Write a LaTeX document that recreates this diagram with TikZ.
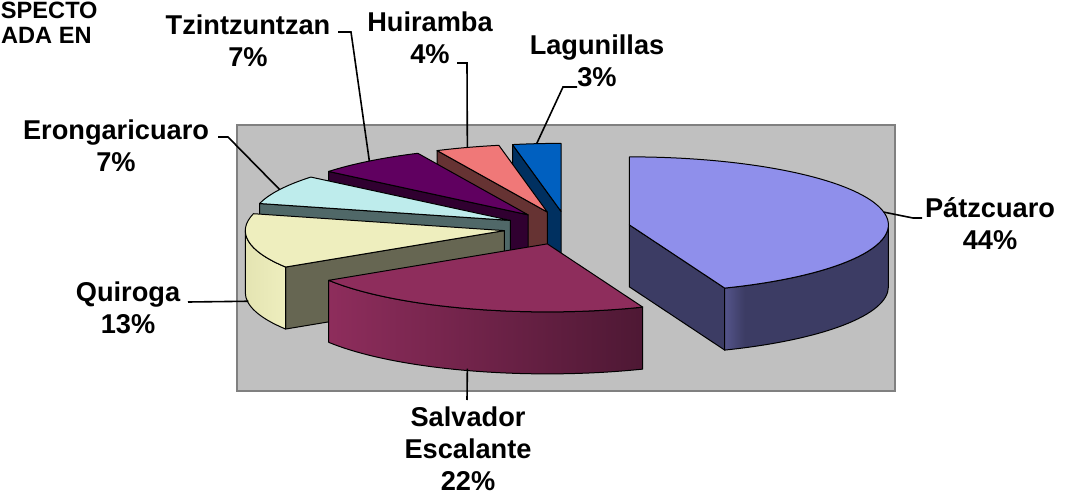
\documentclass[tikz,border=0pt]{standalone}
\usepackage{fontspec}
\setmainfont{Liberation Sans}

\definecolor{areaFill}{RGB}{192,192,192}
\definecolor{areaLine}{RGB}{128,128,128}
\definecolor{patzT}{RGB}{143,143,235}
\definecolor{patzL}{RGB}{84,84,138}
\definecolor{patzD}{RGB}{60,60,100}
\definecolor{salvT}{RGB}{142,45,92}
\definecolor{salvD}{RGB}{78,24,52}
\definecolor{quirT}{RGB}{238,238,190}
\definecolor{quirL}{RGB}{228,228,178}
\definecolor{quirS}{RGB}{102,102,82}
\definecolor{eronT}{RGB}{190,236,236}
\definecolor{eronS}{RGB}{80,104,104}
\definecolor{tzinT}{RGB}{96,0,96}
\definecolor{tzinS}{RGB}{48,0,48}
\definecolor{huirT}{RGB}{240,120,120}
\definecolor{huirS}{RGB}{102,51,51}
\definecolor{laguT}{RGB}{0,96,192}
\definecolor{laguS}{RGB}{0,48,96}

\pgfdeclarehorizontalshading{patzwall}{100bp}{color(0bp)=(patzL); color(25bp)=(patzL); color(31bp)=(patzD); color(100bp)=(patzD)}

% pie geometry: radii 259 x 68, depth 62
\newcommand{\ptE}[1]{({259*cos(#1)},{68*sin(#1)})}
\newcommand{\topface}[2]{(0,0) -- \ptE{#1} arc[start angle=#1, end angle=#2, x radius=259, y radius=68] -- cycle}
\newcommand{\sideface}[1]{(0,0) -- \ptE{#1} -- ++(0,-62) -- (0,-62) -- cycle}
\newcommand{\outerface}[2]{\ptE{#1} arc[start angle=#1, end angle=#2, x radius=259, y radius=68] -- ++(0,-62) arc[start angle=#2, end angle=#1, x radius=259, y radius=68] -- cycle}

\tikzset{
  edge/.style={draw=black, line width=0.5pt, line join=round},
  leader/.style={draw=black, line width=0.8pt},
  lbl/.style={font=\fontsize{13.6}{16}\selectfont\bfseries, align=center, inner sep=0pt},
  ttl/.style={font=\fontsize{11.8}{14}\selectfont\bfseries, inner sep=0pt, anchor=base east},
}

\begin{document}
\begin{tikzpicture}[x=0.5pt, y=0.5pt]
  \path[use as bounding box, clip] (0,0) rectangle (1070,-497);

  % title, cut by the frame
  \node[ttl] (ttl1) at (98,-19) {SPECTO};
  \node[ttl] (ttl2) at (92,-44) {ADA EN};

  % plot area
  \draw[fill=areaFill, draw=areaLine, line width=1.3pt] (237,-125) rectangle (895,-391);

  % slice centres (exploded along mid angle)
  \coordinate (c-lagu) at ({567+63.5*cos(95.4)},{-228+16.7*sin(95.4)});
  \coordinate (c-huir) at ({567+63.5*cos(108)},{-228+16.7*sin(108)});
  \coordinate (c-tzin) at ({567+63.5*cos(127.8)},{-228+16.7*sin(127.8)});
  \coordinate (c-eron) at ({567+63.5*cos(153)},{-228+16.7*sin(153)});
  \coordinate (c-quir) at ({567+63.5*cos(189)},{-228+16.7*sin(189)});
  \coordinate (c-patz) at ({567+63.5*cos(10.8)},{-228+16.7*sin(10.8)});
  \coordinate (c-salv) at ({567+63.5*cos(-108)},{-228+16.7*sin(-108)});

  %---------------- slices, back to front ----------------%
  \begin{scope}[shift={(c-lagu)}]
    \path[edge, fill=laguS] \sideface{100.8};
    \path[edge, fill=laguT] \topface{90}{100.8};
    \path \ptE{95.4} coordinate (lagu-tip);
  \end{scope}
  \begin{scope}[shift={(c-huir)}]
    \path[edge, fill=huirS] \sideface{115.2};
    \path[edge, fill=huirT] \topface{100.8}{115.2};
    \path \ptE{108} coordinate (huir-tip);
  \end{scope}
  \begin{scope}[shift={(c-tzin)}]
    \path[edge, fill=tzinS] \sideface{140.4};
    \path[edge, fill=tzinT] \topface{115.2}{140.4};
    \path \ptE{127.8} coordinate (tzin-tip);
  \end{scope}
  \begin{scope}[shift={(c-eron)}]
    \path[edge, fill=eronS] \sideface{165.6};
    \path[edge, fill=eronT] \topface{140.4}{165.6};
    \path \ptE{153} coordinate (eron-tip);
  \end{scope}
  \begin{scope}[shift={(c-quir)}]
    \path[edge, fill=quirS] \sideface{212.4};
    \path[edge, left color=quirL, right color=quirT] \outerface{180}{212.4};
    \path[edge, fill=quirT] \topface{165.6}{212.4};
    \path \ptE{189} ++(0,-60) coordinate (quir-tip);
  \end{scope}
  \begin{scope}[shift={(c-patz)}]
    \path[edge, fill=patzD] \sideface{-68.4};
    \path[edge, shading=patzwall] \outerface{-68.4}{0};
    \path[edge, fill=patzT] \topface{-68.4}{90};
    \path \ptE{10.8} coordinate (patz-tip);
  \end{scope}
  \begin{scope}[shift={(c-salv)}]
    \path[edge, left color=salvT, right color=salvD] \outerface{-147.6}{-68.4};
    \path[edge, fill=salvT] \topface{-147.6}{-68.4};
    \path \ptE{-108} ++(0,-60) coordinate (salv-tip);
  \end{scope}

  %---------------- labels ----------------%
  \node[lbl] (patz-lab) at (990,-224) {Pátzcuaro\\44\%};
  \node[lbl] (salv-lab) at (468,-449) {Salvador\\Escalante\\22\%};
  \node[lbl] (quir-lab) at (128,-308) {Quiroga\\13\%};
  \node[lbl] (eron-lab) at (116,-146) {Erongaricuaro\\7\%};
  \node[lbl] (tzin-lab) at (248,-41) {Tzintzuntzan\\7\%};
  \node[lbl] (huir-lab) at (430,-38) {Huiramba\\4\%};
  \node[lbl] (lagu-lab) at (597,-61) {Lagunillas\\3\%};

  % leader lines
  \coordinate (patz-bend) at (913,-218);
  \coordinate (eron-bend) at (228,-137);
  \coordinate (tzin-bend) at (351,-32);
  \coordinate (huir-bend) at (467,-63);
  \coordinate (lagu-bend) at (563,-87);
  \draw[leader] (patz-tip) -- (patz-bend) -- (922,-218);
  \draw[leader] (salv-tip) -- (467,-400);
  \draw[leader] (quir-tip) -- (188,-302);
  \draw[leader] (eron-tip) -- (eron-bend) -- (218,-137);
  \draw[leader] (tzin-tip) -- (tzin-bend) -- (338,-32);
  \draw[leader] (huir-tip) -- (huir-bend) -- (457,-63);
  \draw[leader] (lagu-tip) -- (lagu-bend) -- (577,-87);
\end{tikzpicture}
\end{document}
